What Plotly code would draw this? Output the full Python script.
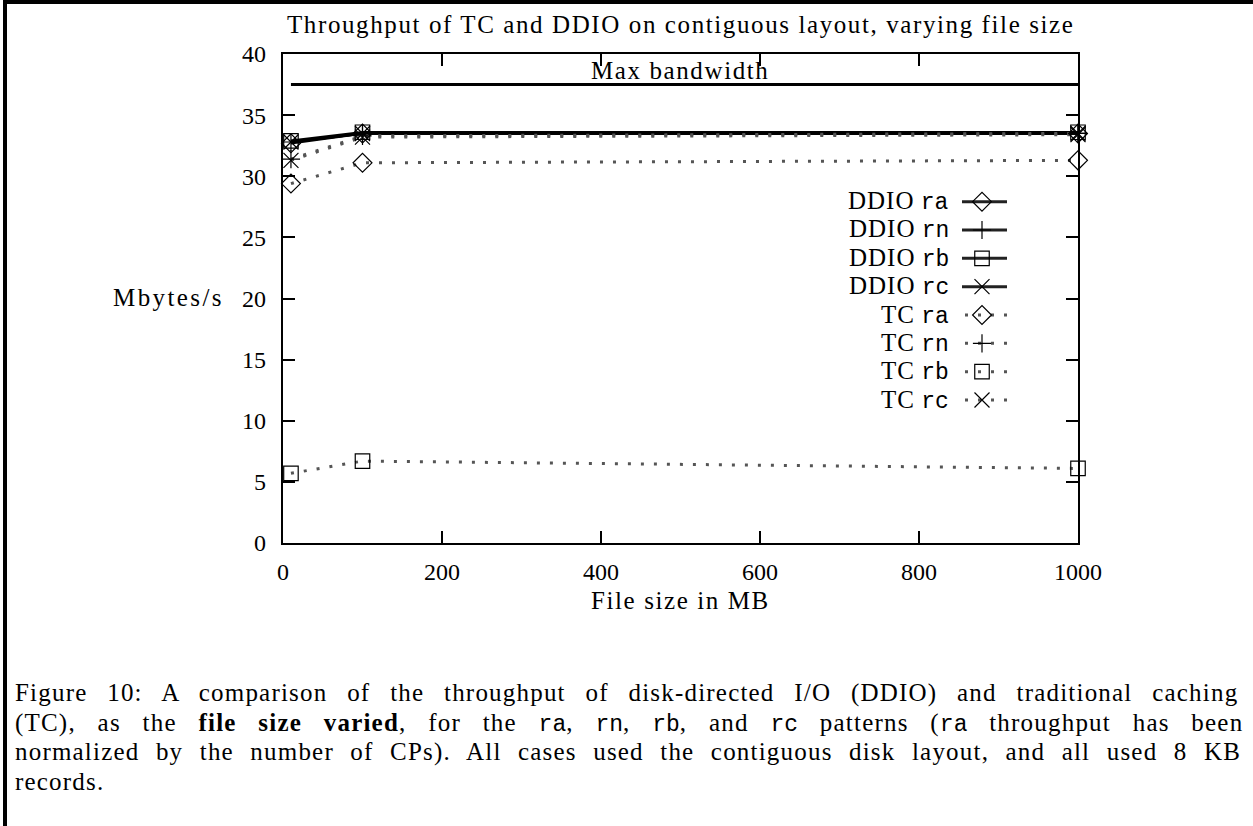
import plotly.graph_objects as go

# ---------------- data ----------------
file_size = [10, 100, 1000]
ddio_ra = [32.7, 33.5, 33.5]
ddio_rn = [32.8, 33.5, 33.5]
ddio_rb = [32.9, 33.6, 33.6]
ddio_rc = [32.8, 33.5, 33.5]
tc_ra = [29.4, 31.1, 31.3]
tc_rn = [31.4, 33.3, 33.5]
tc_rb = [5.7, 6.7, 6.1]
tc_rc = [31.3, 33.2, 33.4]
max_bw_x = [10, 1000]
max_bw = [37.5, 37.5]
x_ticks = [0, 200, 400, 600, 800, 1000]
y_ticks = [0, 5, 10, 15, 20, 25, 30, 35, 40]

series = [
    ("DDIO", "ra", ddio_ra, "solid", "diamond-open"),
    ("DDIO", "rn", ddio_rn, "solid", "cross-thin-open"),
    ("DDIO", "rb", ddio_rb, "solid", "square-open"),
    ("DDIO", "rc", ddio_rc, "solid", "x-thin-open"),
    ("TC", "ra", tc_ra, "dot", "diamond-open"),
    ("TC", "rn", tc_rn, "dot", "cross-thin-open"),
    ("TC", "rb", tc_rb, "dot", "square-open"),
    ("TC", "rc", tc_rc, "dot", "x-thin-open"),
]

# ---------------- layout geometry (pixels) ----------------
W, H = 1253, 826
L, R, T, B = 283, 1078, 54, 543
PW, PH = R - L, B - T


def px(xp):
    return (xp - L) / PW


def py(yp):
    return (B - yp) / PH


SERIF = "Liberation Serif"
MONO = "Liberation Mono"
msize = {"diamond-open": 14.5, "cross-thin-open": 13, "square-open": 14.5, "x-thin-open": 15}
DOT_DASH = "3px,10px"


def sp(text, ls=1.6, ws=0.0):
    return f"<span style=\"letter-spacing:{ls}px;word-spacing:{ws}px\">{text}</span>"


def tt(s, size=23):
    return f"<span style=\"font-family:'{MONO}';font-size:{size}px;letter-spacing:0px\">{s}</span>"


fig = go.Figure()

# max bandwidth line
fig.add_trace(go.Scatter(x=max_bw_x, y=max_bw, mode="lines",
                         line=dict(color="black", width=3), showlegend=False, hoverinfo="skip"))

for grp, pat, vals, style, sym in series:
    if style == "solid":
        line = dict(color="black", width=2.6)
    else:
        line = dict(color="#555555", width=3, dash=DOT_DASH)
    fig.add_trace(go.Scatter(x=file_size, y=vals, mode="lines", line=line,
                             showlegend=False, hoverinfo="skip"))
for grp, pat, vals, style, sym in series:
    fig.add_trace(go.Scatter(x=file_size, y=vals, mode="markers",
                             marker=dict(symbol=sym, size=msize[sym], color="black",
                                         line=dict(color="black", width=1.2)),
                             showlegend=False, cliponaxis=False, name=f"{grp} {pat}"))

# ---------------- custom legend (text left, sample right) ----------------
leg_rows = [201.7, 230, 258.3, 286.7, 315, 343.3, 371.7, 400]
leg_text_right = 951
leg_line = (962, 1007)
leg_mark = 982
for (grp, pat, vals, style, sym), ry in zip(series, leg_rows):
    fig.add_annotation(xref="paper", yref="paper", x=px(leg_text_right), y=py(ry),
                       xanchor="right", yanchor="middle", showarrow=False,
                       text=sp(grp, 1.0) + " " + tt(pat),
                       font=dict(family=SERIF, size=25, color="black"))
    if style == "solid":
        lx = [leg_line[0], leg_line[1]]
        line = dict(color="#222222", width=3)
    else:
        lx = [leg_line[0] + 3, leg_line[1]]
        line = dict(color="#555555", width=3, dash="3px,10px")
    fig.add_trace(go.Scatter(x=lx, y=[ry, ry], xaxis="x2", yaxis="y2", mode="lines",
                             line=line, showlegend=False, hoverinfo="skip"))
    fig.add_trace(go.Scatter(x=[leg_mark], y=[ry], xaxis="x2", yaxis="y2", mode="markers",
                             marker=dict(symbol=sym, size=msize[sym], color="black",
                                         line=dict(color="black", width=1.2)),
                             showlegend=False, hoverinfo="skip"))

# ---------------- texts ----------------
ann_font = dict(family=SERIF, size=25, color="black")
fig.add_annotation(xref="paper", yref="paper", x=px(680), y=py(25),
                   text=sp("Throughput of TC and DDIO on contiguous layout, varying file size"),
                   showarrow=False, xanchor="center", yanchor="middle", font=ann_font)
fig.add_annotation(xref="paper", yref="paper", x=px(680), y=py(71), text=sp("Max bandwidth"),
                   showarrow=False, xanchor="center", yanchor="middle", font=ann_font)
fig.add_annotation(xref="paper", yref="paper", x=px(680), y=py(600), text=sp("File size in MB"),
                   showarrow=False, xanchor="center", yanchor="middle", font=ann_font)
fig.add_annotation(xref="paper", yref="paper", x=px(226), y=py(297), text=sp("Mbytes/s", 2.4),
                   showarrow=False, xanchor="right", yanchor="middle", font=ann_font)

caption = [
    ("Figure 10: A comparison of the throughput of disk-directed I/O (DDIO) and traditional caching", 12.3),
    (f"(TC), as the <b>file size varied</b>, for the {tt('ra')}, {tt('rn')}, {tt('rb')}, and {tt('rc')} patterns ({tt('ra')} throughput has been", 14.3),
    ("normalized by the number of CPs). All cases used the contiguous disk layout, and all used 8 KB", 9.0),
    ("records.", 0.0),
]
cap_y = [693, 723, 752, 781]
for (line_txt, ws), cy in zip(caption, cap_y):
    fig.add_annotation(xref="paper", yref="paper", x=px(13), y=py(cy), text=sp(line_txt, 1.2, ws),
                       showarrow=False, xanchor="left", yanchor="middle",
                       font=dict(family=SERIF, size=25, color="black"))

# frame lines
fig.add_shape(type="line", xref="paper", yref="paper", x0=px(3), x1=px(W + 5), y0=py(2), y1=py(2),
              line=dict(color="black", width=4))
fig.add_shape(type="line", xref="paper", yref="paper", x0=px(5), x1=px(5), y0=py(0), y1=py(H + 5),
              line=dict(color="black", width=4))

axis_common = dict(showgrid=False, zeroline=False, showline=True, linecolor="black", linewidth=2.3,
                   mirror="ticks", ticks="inside", ticklen=12, tickwidth=2.3, tickcolor="black",
                   tickfont=dict(family=SERIF, size=24, color="black"))
fig.update_layout(
    width=W, height=H, margin=dict(l=L, r=W - R, t=T, b=H - B, pad=0),
    paper_bgcolor="white", plot_bgcolor="white", showlegend=False,
    xaxis=dict(range=[0, 1000], tickvals=x_ticks, ticktext=[str(v) for v in x_ticks],
               ticklabelstandoff=6, **axis_common),
    yaxis=dict(range=[0, 40], tickvals=y_ticks, ticktext=[str(v) for v in y_ticks],
               ticklabelstandoff=10, **axis_common),
    xaxis2=dict(range=[L, R], overlaying="x", visible=False),
    yaxis2=dict(range=[B, T], overlaying="y", visible=False),
)

fig.write_html("out.html", config={"displayModeBar": False},
               post_script="document.body.style.margin='0';document.body.style.overflow='hidden';")
